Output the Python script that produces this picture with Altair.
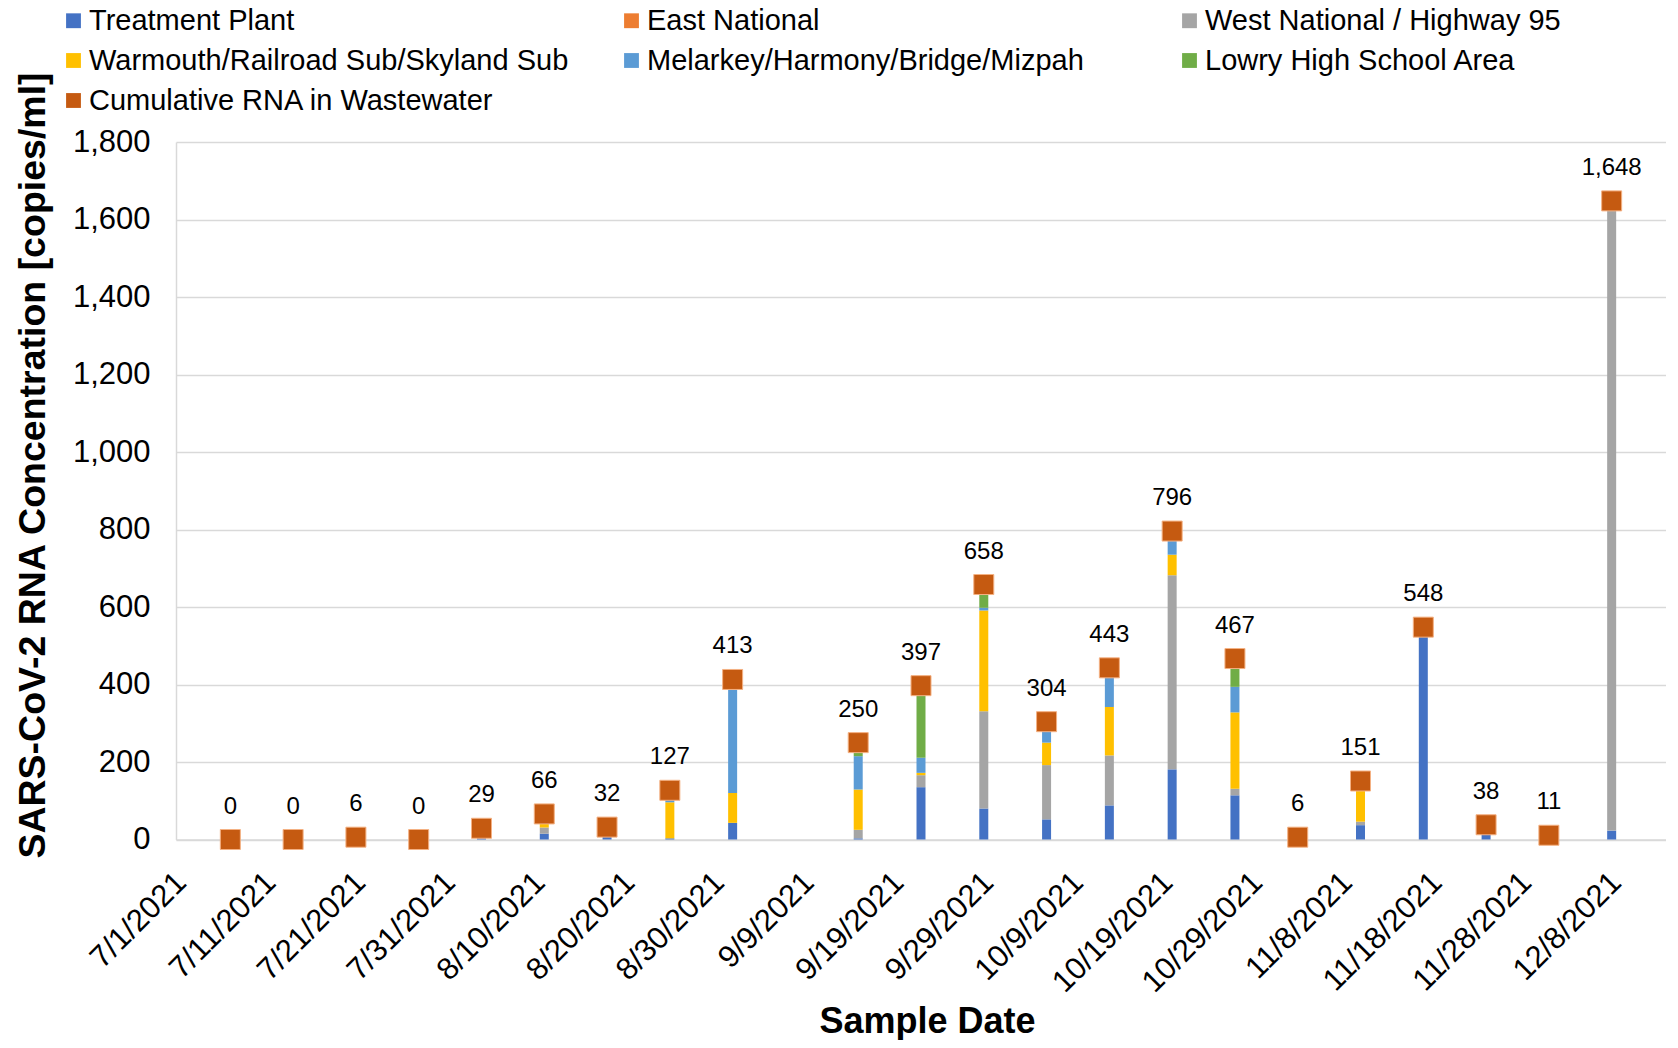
import altair as alt
import pandas as pd

# ---------------- data ----------------
sample_dates = ["2021-07-06", "2021-07-13", "2021-07-20", "2021-07-27", "2021-08-03",
                "2021-08-10", "2021-08-17", "2021-08-24", "2021-08-31", "2021-09-14",
                "2021-09-21", "2021-09-28", "2021-10-05", "2021-10-12", "2021-10-19",
                "2021-10-26", "2021-11-02", "2021-11-09", "2021-11-16", "2021-11-23",
                "2021-11-30", "2021-12-07"]

treatment_plant = [0, 0, 6, 0, 29, 15, 32, 3, 43, 3, 135, 80, 52, 88, 181, 114, 6, 37, 548, 38, 11, 23]
east_national   = [0, 0, 0, 0, 0, 0, 0, 0, 0, 0, 0, 0, 0, 0, 0, 0, 0, 0, 0, 0, 0, 0]
west_national   = [0, 0, 0, 0, 0, 16, 0, 0, 0, 22, 31, 251, 140, 129, 501, 17, 0, 9, 0, 0, 0, 1625]
warmouth        = [0, 0, 0, 0, 0, 9, 0, 93, 77, 104, 6, 260, 58, 125, 53, 197, 0, 105, 0, 0, 0, 0]
melarkey        = [0, 0, 0, 0, 0, 26, 0, 31, 293, 86, 39, 7, 54, 101, 61, 66, 0, 0, 0, 0, 0, 0]
lowry           = [0, 0, 0, 0, 0, 0, 0, 0, 0, 35, 186, 60, 0, 0, 0, 73, 0, 0, 0, 0, 0, 0]
cumulative      = [0, 0, 6, 0, 29, 66, 32, 127, 413, 250, 397, 658, 304, 443, 796, 467, 6, 151, 548, 38, 11, 1648]

series_names = ["Treatment Plant", "East National", "West National / Highway 95",
                "Warmouth/Railroad Sub/Skyland Sub", "Melarkey/Harmony/Bridge/Mizpah",
                "Lowry High School Area"]
cumulative_name = "Cumulative RNA in Wastewater"
series_values = [treatment_plant, east_national, west_national, warmouth, melarkey, lowry]
colors = ["#4472C4", "#ED7D31", "#A5A5A5", "#FFC000", "#5B9BD5", "#70AD47", "#C55A11"]

tick_dates = ["2021-07-01", "2021-07-11", "2021-07-21", "2021-07-31", "2021-08-10",
              "2021-08-20", "2021-08-30", "2021-09-09", "2021-09-19", "2021-09-29",
              "2021-10-09", "2021-10-19", "2021-10-29", "2021-11-08", "2021-11-18",
              "2021-11-28", "2021-12-08"]
x_min, x_max = "2021-07-01", "2021-12-13"
y_ticks = [0, 200, 400, 600, 800, 1000, 1200, 1400, 1600, 1800]


def ms(s):
    return int(pd.Timestamp(s, tz="UTC").value // 10**6)


# sample points sit in the middle of their day (date-axis "between tick marks")
pos = (pd.to_datetime(sample_dates) + pd.Timedelta(hours=12)).strftime("%Y-%m-%dT%H:%M:%SZ")

rows = []
for idx, (name, vals) in enumerate(zip(series_names, series_values)):
    for p, v in zip(pos, vals):
        rows.append({"pos": p, "series": name, "value": v, "idx": idx})
df_long = pd.DataFrame(rows)
df_tot = pd.DataFrame({"pos": list(pos), "total": cumulative, "series": cumulative_name})

FONT = "Liberation Sans"
GRID = "#D9D9D9"

color_scale = alt.Scale(domain=series_names + [cumulative_name], range=colors)

x_enc = alt.X(
    "pos:T",
    scale=alt.Scale(type="utc", domain=[ms(x_min), ms(x_max)]),
    axis=alt.Axis(
        values=[ms(d) for d in tick_dates],
        labelExpr="utcFormat(datum.value, '%-m/%-d/%Y')",
        labelAngle=315, labelAlign="right", labelBaseline="middle",
        labelFontSize=31, labelPadding=38, labelOffset=0,
        labelFlush=False, labelOverlap=False, labelBound=False,
        grid=False, ticks=False, domain=True, domainColor=GRID, domainWidth=1.5,
        title="Sample Date", titleFontSize=36, titleFontWeight="bold",
        titleX=751, titleY=193, titleAlign="center", titleBaseline="alphabetic",
    ),
)

y_scale = alt.Scale(domain=[0, 1800], nice=False)
y_axis = alt.Axis(
    values=y_ticks, format=",.0f", labelFontSize=31, labelPadding=26,
    ticks=False, domain=True, domainColor=GRID, domainWidth=1.5,
    grid=True, gridColor=GRID, gridWidth=1.5,
    title="SARS-CoV-2 RNA Concentration [copies/ml]", titleFontSize=37.5,
    titleFontWeight="bold", titleAngle=270, titleX=-132, titleY=323,
    titleAlign="center", titleBaseline="alphabetic",
)

legend = alt.Legend(
    title=None, orient="none", direction="horizontal", legendX=-117, legendY=-136,
    columns=3, gridAlign="all", columnPadding=48, rowPadding=10, symbolType="square",
    symbolSize=220, symbolStrokeWidth=0, labelFontSize=29, labelFont=FONT,
    labelColor="black", labelLimit=800, labelOffset=1, padding=0,
)

bars = alt.Chart(df_long).transform_filter("datum.value > 0").mark_bar(size=9).encode(
    x=x_enc,
    y=alt.Y("value:Q", stack="zero", scale=y_scale, axis=y_axis),
    color=alt.Color("series:N", scale=color_scale, legend=legend),
    order=alt.Order("idx:Q", sort="ascending"),
)

points = alt.Chart(df_tot).mark_square(size=400, opacity=1, filled=True,
                                       stroke="#F4B183", strokeWidth=1).encode(
    x=alt.X("pos:T"),
    y=alt.Y("total:Q"),
    color=alt.Color("series:N", scale=color_scale, legend=legend),
)

labels = alt.Chart(df_tot).mark_text(dy=-26, baseline="alphabetic", fontSize=24,
                                     font=FONT, color="black").encode(
    x=alt.X("pos:T"),
    y=alt.Y("total:Q"),
    text=alt.Text("total:Q", format=",.0f"),
)

chart = alt.layer(bars, points, labels).properties(
    width=1490, height=697.5,
    padding={"left": 168, "top": 134, "right": 0, "bottom": 200},
    autosize=alt.AutoSizeParams(type="none"),
).configure(font=FONT).configure_view(stroke=None).configure_axis(
    labelColor="black", titleColor="black", labelFont=FONT, titleFont=FONT
)

chart.save("out.html", embed_options={"renderer": "svg", "actions": False})
